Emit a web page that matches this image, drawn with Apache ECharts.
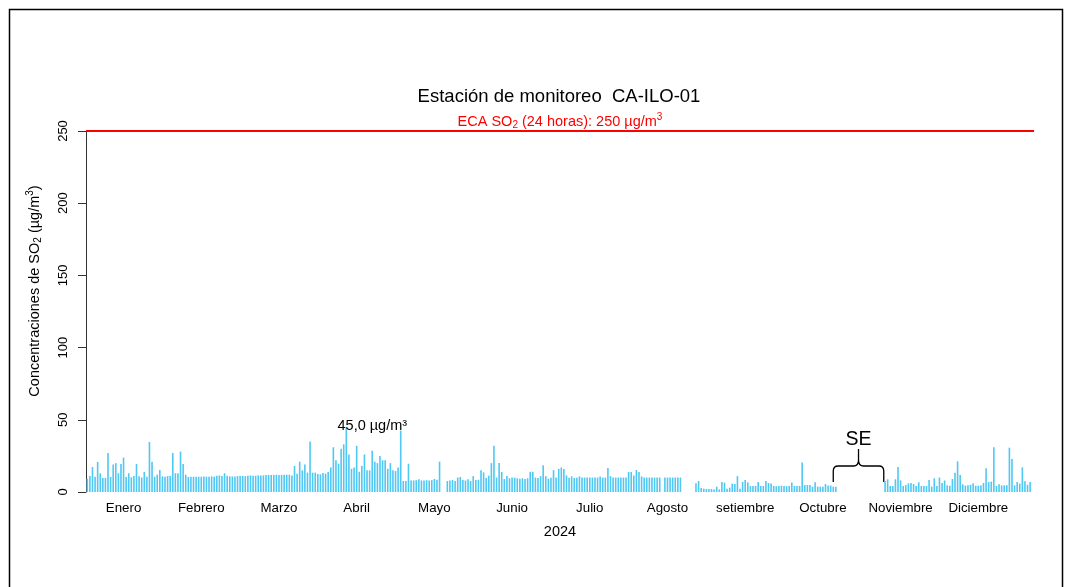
<!DOCTYPE html>
<html>
<head>
<meta charset="utf-8">
<script src="https://cdn.jsdelivr.net/npm/echarts@6/dist/echarts.min.js"></script>
<style>
html,body{margin:0;padding:0;background:#fff;}
#chart{width:1065px;height:587px;}
</style>
</head>
<body>
<div id="chart"></div>
<script>
// SO2 diario 2024 (µg/m3), un arreglo por mes; null = sin dato
var ene = [9.2, 11.0, 17.3, 10.6, 20.8, 12.9, 9.7, 9.7, 27.0, 10.4, 19.0, 20.0, 13.0, 19.4, 23.8, 10.4, 13.0, 10.2, 11.0, 19.4, 10.9, 10.0, 13.9, 10.6, 34.6, 21.0, 10.6, 12.0, 15.2, 10.8, 10.6];
var feb = [11.0, 11.0, 27.0, 13.0, 13.0, 28.0, 19.4, 12.0, 10.4, 10.6, 10.6, 10.6, 10.6, 10.6, 10.8, 10.6, 10.6, 10.8, 10.6, 11.2, 11.5, 11.0, 13.0, 11.2, 10.8, 10.8, 10.8, 11.0, 11.0];
var mar = [11.2, 11.0, 11.2, 11.5, 11.2, 11.2, 11.5, 11.5, 11.5, 11.8, 11.8, 11.8, 11.8, 12.0, 11.8, 11.8, 12.0, 12.0, 12.0, 11.5, 18.0, 12.7, 21.0, 15.0, 19.0, 13.4, 35.0, 13.4, 13.4, 12.5, 12.2];
var abr = [13.2, 12.7, 13.9, 17.0, 31.0, 22.0, 19.6, 30.0, 33.0, 45.0, 26.0, 16.0, 17.0, 32.0, 14.0, 18.0, 26.0, 15.0, 15.0, 28.6, 21.0, 20.0, 25.0, 22.0, 22.0, 16.0, 20.0, 15.0, 14.5, 17.0];
var may = [42.5, 7.6, 7.6, 19.6, 8.0, 8.0, 8.2, 8.8, 8.0, 8.0, 8.2, 8.0, 8.2, 9.0, 8.5, 21.0, null, null, 7.6, 8.0, 8.3, 7.6, 10.0, 10.4, 8.3, 8.0, 8.8, 7.6, 11.0, 8.3, 8.5];
var jun = [15.0, 13.6, 9.7, 11.3, 20.0, 32.0, 10.0, 20.0, 13.9, 9.0, 11.0, 9.5, 10.0, 10.0, 9.5, 9.2, 9.5, 9.0, 9.5, 14.0, 14.0, 10.0, 9.7, 11.0, 18.5, 11.0, 9.2, 9.9, 15.2, 10.0];
var jul = [16.0, 17.0, 16.0, 11.5, 9.9, 10.8, 9.7, 9.9, 10.8, 10.0, 10.0, 10.0, 10.0, 10.0, 10.0, 10.0, 10.8, 10.0, 10.0, 16.6, 11.0, 10.0, 10.0, 10.0, 10.0, 10.0, 10.0, 13.9, 13.9, 11.5, 15.2];
var ago = [13.9, 10.8, 10.0, 10.0, 10.0, 10.0, 10.0, 10.0, 10.0, null, 10.0, 10.0, 10.0, 10.0, 10.0, 10.0, 10.0, null, null, null, null, null, 6.0, 7.6, 2.8, 2.3, 2.1, 2.1, 2.1, 1.8, 3.7];
var sep = [1.8, 6.9, 6.5, 2.3, 3.0, 5.8, 5.5, 11.0, 2.3, 7.0, 8.3, 6.7, 4.2, 4.2, 4.2, 6.9, 4.2, 4.2, 7.6, 6.2, 5.8, 4.2, 4.0, 4.2, 4.4, 4.2, 4.0, 4.2, 6.5, 4.2];
var oct = [4.2, 4.2, 20.5, 4.8, 4.8, 4.8, 3.7, 6.7, 3.7, 3.7, 3.7, 5.5, 4.5, 4.5, 3.7, 3.7, null, null, null, null, null, null, null, null, null, null, null, null, null, null, null];
var nov = [null, null, null, 7.6, 8.8, 4.2, 4.2, 8.8, 17.3, 8.0, 4.2, 4.8, 6.0, 6.2, 5.5, 4.2, 6.7, 4.2, 4.2, 4.2, 8.3, 3.7, 9.5, 4.2, 10.0, 6.2, 8.0, 4.6, 4.4, 9.0];
var dic = [13.4, 21.2, 11.8, 5.3, 4.4, 4.6, 5.0, 6.0, 4.4, 4.4, 4.6, 6.2, 16.4, 6.9, 7.2, 31.0, 4.2, 5.3, 4.6, 4.6, 4.6, 30.7, 22.9, 4.6, 6.9, 5.8, 17.1, 7.4, 5.0, 6.9, null];

var meses = ['Enero', 'Febrero', 'Marzo', 'Abril', 'Mayo', 'Junio', 'Julio', 'Agosto', 'setiembre', 'Octubre', 'Noviembre', 'Diciembre'];
var posMeses = [14, 44, 74, 104, 134, 164, 194, 224, 254, 284, 314, 344];
var yTicks = [0, 50, 100, 150, 200, 250];
var eca = 250;
var seGap = [290, 307];   // periodo sin equipo (indices de dia)
var picoTexto = '45,0 µg/m³';

var so2 = [].concat(ene, feb, mar, abr, may, jun, jul, ago, sep, oct, nov, dic);
var dias = [];
var t0 = Date.UTC(2024, 0, 1);
for (var i = 0; i < so2.length; i++) {
    dias.push(new Date(t0 + i * 86400000).toISOString().slice(0, 10));
}
var picoIdx = so2.indexOf(Math.max.apply(null, so2));

var font = "'Liberation Sans', Arial, sans-serif";
var negro = '#000';

var barData = so2.map(function (v, i) {
    if (i !== picoIdx) return v;
    return {
        value: v,
        label: {
            show: true, position: 'top', formatter: picoTexto, offset: [26, 11],
            color: negro, fontSize: 14.5, fontFamily: font
        }
    };
});

var myChart = echarts.init(document.getElementById('chart'));

var option = {
    animation: false,
    backgroundColor: '#fff',
    title: {
        text: 'Estación de monitoreo  CA-ILO-01',
        left: 559, top: 87, textAlign: 'center', padding: 0,
        textStyle: { fontFamily: font, fontSize: 18.5, fontWeight: 'normal', color: negro }
    },
    grid: { left: 86, right: 31, top: 131, bottom: 95 },
    xAxis: {
        type: 'category',
        data: dias,
        axisLine: { show: false },
        axisTick: { show: false },
        axisLabel: {
            interval: function (index) { return posMeses.indexOf(index) >= 0; },
            formatter: function (value, index) { return meses[posMeses.indexOf(index)]; },
            margin: 10, color: negro, fontFamily: font, fontSize: 13.3
        },
        name: '2024', nameLocation: 'middle', nameGap: 32,
        nameTextStyle: { color: negro, fontFamily: font, fontSize: 14.5 }
    },
    yAxis: {
        type: 'value',
        min: yTicks[0], max: yTicks[yTicks.length - 1], interval: 50,
        splitLine: { show: false },
        axisLine: { show: true, lineStyle: { color: '#333', width: 1 } },
        axisTick: { show: true, length: 8, lineStyle: { color: '#333' } },
        axisLabel: { rotate: 90, margin: 16, color: negro, fontFamily: font, fontSize: 13 }
    },
    graphic: [
        {
            type: 'rect', silent: true,
            shape: { x: 9.5, y: 9.5, width: 1053, height: 600 },
            style: { fill: 'none', stroke: '#000', lineWidth: 1.5 }
        },
        {
            type: 'text', silent: true, x: 35, y: 291, rotation: Math.PI / 2,
            style: {
                text: '{a|Concentraciones de SO}{s|2}{a| (µg/m}{p|3}{a|)}',
                align: 'center', verticalAlign: 'middle',
                rich: {
                    a: { fontFamily: font, fontSize: 14.5, fill: negro, color: negro },
                    s: { fontFamily: font, fontSize: 10, fill: negro, color: negro, padding: [7, 0, 0, 0] },
                    p: { fontFamily: font, fontSize: 10, fill: negro, color: negro, padding: [0, 0, 9, 0] }
                }
            }
        }
    ],
    series: [
        {
            type: 'bar',
            data: barData,
            barWidth: '62%',
            itemStyle: { color: '#4fc8f3' },
            markLine: {
                silent: true, symbol: 'none', animation: false,
                data: [{ yAxis: eca }],
                lineStyle: { color: '#ff0000', width: 2, type: 'solid' },
                label: {
                    show: true, position: 'insideMiddleTop', distance: 0,
                    formatter: '{a|ECA SO}{s|2}{a| (24 horas): ' + eca + ' µg/m}{p|3}',
                    rich: {
                        a: { color: '#ff0000', fontFamily: font, fontSize: 14.5 },
                        s: { color: '#ff0000', fontFamily: font, fontSize: 10, padding: [7, 0, 0, 0] },
                        p: { color: '#ff0000', fontFamily: font, fontSize: 10, padding: [0, 0, 9, 0] }
                    }
                },
                emphasis: { disabled: true }
            }
        },
        {
            // llave "SE" sobre el periodo sin equipo
            type: 'custom',
            silent: true,
            data: [seGap],
            renderItem: function (params, api) {
                var bw = api.size([1, 0])[0];
                var p0 = api.coord([api.value(0), 0]);
                var p1 = api.coord([api.value(1), 0]);
                var L = p0[0] - 2 * bw, R = p1[0] + 0.5 * bw, M = (L + R) / 2;
                var base = p0[1];
                var yE = base - 10, yH = base - 26, yT = base - 43, r = 5;
                var d = 'M' + L + ',' + yE + ' L' + L + ',' + (yH + r) +
                    ' Q' + L + ',' + yH + ' ' + (L + r) + ',' + yH +
                    ' L' + (M - r) + ',' + yH +
                    ' Q' + M + ',' + yH + ' ' + M + ',' + (yH - 6) +
                    ' L' + M + ',' + yT +
                    ' M' + M + ',' + (yH - 6) +
                    ' Q' + M + ',' + yH + ' ' + (M + r) + ',' + yH +
                    ' L' + (R - r) + ',' + yH +
                    ' Q' + R + ',' + yH + ' ' + R + ',' + (yH + r) +
                    ' L' + R + ',' + yE;
                return {
                    type: 'group',
                    children: [
                        { type: 'path', shape: { pathData: d }, style: { fill: 'none', stroke: '#000', lineWidth: 1.3 } },
                        {
                            type: 'text',
                            style: {
                                text: 'SE', x: M, y: base - 52, align: 'center', verticalAlign: 'middle',
                                fill: '#000', fontFamily: font, fontSize: 19.5
                            }
                        }
                    ]
                };
            }
        }
    ]
};

myChart.setOption(option);
</script>
</body>
</html>
